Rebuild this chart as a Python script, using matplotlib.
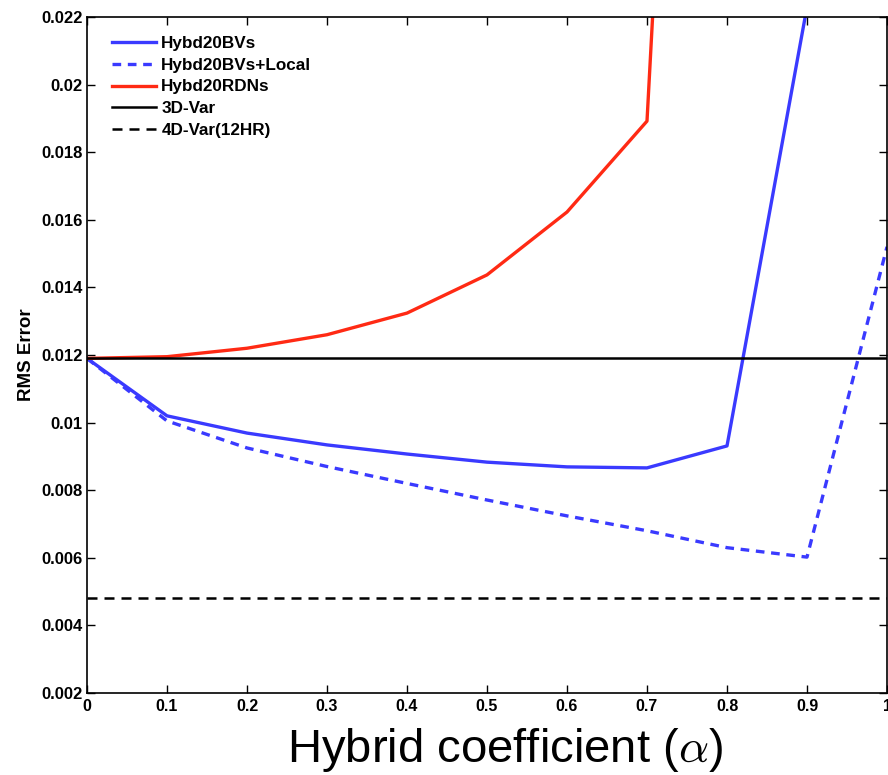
import matplotlib
matplotlib.use("Agg")
import matplotlib.pyplot as plt

plt.rcParams["mathtext.fontset"] = "cm"

alpha = [0.0, 0.1, 0.2, 0.3, 0.4, 0.5, 0.6, 0.7, 0.8, 0.9, 1.0]
bvs = [0.0119, 0.0102, 0.00969, 0.00934, 0.00907, 0.00883, 0.00869, 0.00866, 0.00931, 0.0223, 0.035]
bvs_local = [0.0119, 0.01005, 0.00925, 0.0087, 0.0082, 0.00771, 0.00724, 0.0068, 0.0063, 0.00602, 0.0152]
alpha_rdn = [0.0, 0.1, 0.2, 0.3, 0.4, 0.5, 0.6, 0.7, 0.8]
rdns = [0.0119, 0.01195, 0.0122, 0.0126, 0.01324, 0.01437, 0.01623, 0.01892, 0.063]
var3d = 0.0119
var4d = 0.00481
xticks = [0, 0.1, 0.2, 0.3, 0.4, 0.5, 0.6, 0.7, 0.8, 0.9, 1.0]
xticklabels = ["0", "0.1", "0.2", "0.3", "0.4", "0.5", "0.6", "0.7", "0.8", "0.9", "1"]
yticks = [0.002, 0.004, 0.006, 0.008, 0.01, 0.012, 0.014, 0.016, 0.018, 0.02, 0.022]
yticklabels = ["0.002", "0.004", "0.006", "0.008", "0.01", "0.012", "0.014", "0.016", "0.018", "0.02", "0.022"]

font = "Liberation Sans"

fig = plt.figure(figsize=(8.88, 7.75), dpi=100)
ax = fig.add_axes([87/888, 1 - 693/775, 800/888, 676/775])

blue = "#3a3aff"
red = "#ff2a14"
ax.plot(alpha, bvs, color=blue, lw=2.4, label="Hybd20BVs")
ax.plot(alpha, bvs_local, color=blue, lw=2.4, ls=(0, (2.6, 2.0)), label="Hybd20BVs+Local")
ax.plot(alpha_rdn, rdns, color=red, lw=2.4, label="Hybd20RDNs")
ax.axhline(var3d, color="black", lw=1.8, label="3D-Var")
ax.axhline(var4d, color="black", lw=1.8, ls=(0, (4, 2.8)), label="4D-Var(12HR)")

ax.set_xlim(0, 1)
ax.set_ylim(0.002, 0.022)
ax.set_xticks(xticks)
ax.set_xticklabels(xticklabels, fontfamily=font, fontweight="bold", fontsize=11.5)
ax.set_yticks(yticks)
ax.set_yticklabels(yticklabels, fontfamily=font, fontweight="bold", fontsize=12)
ax.tick_params(direction="in", top=True, right=True, length=6, width=1, pad=4)
ax.tick_params(axis="y", pad=3)
for s in ax.spines.values():
    s.set_linewidth(1.2)

ax.set_ylabel("RMS Error", fontfamily=font, fontweight="bold", fontsize=13.5, labelpad=5)
ax.set_xlabel(r"Hybrid coefficient ($\alpha$)", fontfamily=font, fontsize=34)
ax.xaxis.label.set_verticalalignment("top")
ax.xaxis.set_label_coords((505 - 87) / 800, -(726 - 693) / 676)

leg = ax.legend(loc="upper left", bbox_to_anchor=((105 - 87) / 800, (693 - 29) / 676),
                frameon=False, handlelength=2.6, handletextpad=0.3,
                labelspacing=0.4, borderaxespad=0.0, borderpad=0.4,
                prop={"family": font, "weight": "bold", "size": 12.3})

fig.savefig("out.png", dpi=100)
